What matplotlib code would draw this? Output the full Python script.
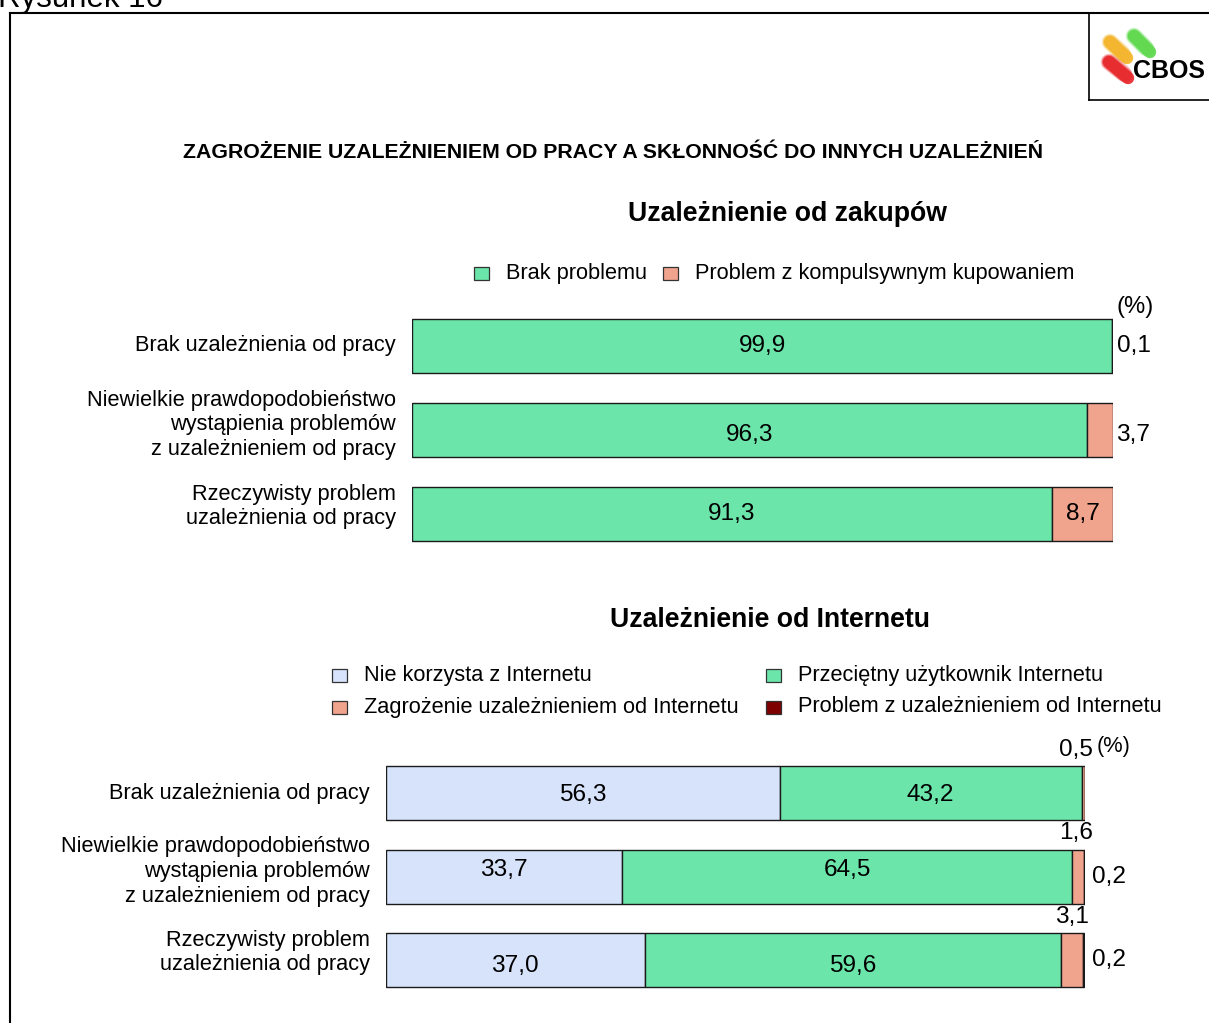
import matplotlib
matplotlib.use("Agg")
import matplotlib.pyplot as plt
from matplotlib.patches import Rectangle
from matplotlib.lines import Line2D

plt.rcParams['font.family'] = ['Liberation Sans', 'DejaVu Sans']

W, H = 1209, 1023

# ---- data ----
title = "ZAGROŻENIE UZALEŻNIENIEM OD PRACY A SKŁONNOŚĆ DO INNYCH UZALEŻNIEŃ"
groups = ["Brak uzależnienia od pracy",
          "Niewielkie prawdopodobieństwo\nwystąpienia problemów\nz uzależnieniem od pracy",
          "Rzeczywisty problem\nuzależnienia od pracy"]

shop_title = "Uzależnienie od zakupów"
shop_series = ["Brak problemu", "Problem z kompulsywnym kupowaniem"]
shop_no_problem = [99.9, 96.3, 91.3]
shop_compulsive = [0.1, 3.7, 8.7]

net_title = "Uzależnienie od Internetu"
net_series = ["Nie korzysta z Internetu", "Przeciętny użytkownik Internetu",
              "Zagrożenie uzależnieniem od Internetu", "Problem z uzależnieniem od Internetu"]
net_nonuser = [56.3, 33.7, 37.0]
net_average = [43.2, 64.5, 59.6]
net_risk = [0.5, 1.6, 3.1]
net_problem = [0.0, 0.2, 0.2]

C_BLUE = "#D6E3FB"
C_GREEN = "#6CE5AB"
C_SALMON = "#F0A48E"
C_DARKRED = "#7F0000"

FS = 15.7      # category and legend text
FN = 17.6      # value labels


def fx(px):
    return px / W


def fy(py):
    return 1 - py / H


def fmt(v):
    return f"{v:.1f}".replace(".", ",")


fig = plt.figure(figsize=(W / 100, H / 100), dpi=100)

# frame and logo box
fig.add_artist(Line2D([fx(10), fx(10)], [fy(13), fy(1030)], color="black", lw=1.5))
fig.add_artist(Line2D([fx(10), fx(1215)], [fy(13), fy(13)], color="black", lw=1.5))
fig.add_artist(Line2D([fx(1089), fx(1089)], [fy(13), fy(100)], color="black", lw=1.2))
fig.add_artist(Line2D([fx(1089), fx(1215)], [fy(100), fy(100)], color="black", lw=1.2))
fig.text(fx(-2), fy(7), "Rysunek 16", fontsize=22.5, ha="left", va="baseline")

# CBOS logo
for (x0, y0, x1, y1, c) in [(1110, 42, 1127, 58, "#F4B428"), (1134, 36, 1150, 52, "#5CD84A"),
                            (1109, 62, 1128, 78, "#E8252A")]:
    for k, a in enumerate([0.25, 0.5, 0.9]):
        fig.add_artist(Line2D([fx(x0), fx(x1 - 5 + 5 * k / 2)], [fy(y0), fy(y1 - 5 + 5 * k / 2)],
                              color=c, lw=12 - k * 1.5, solid_capstyle="round", alpha=a))
fig.text(fx(1133), fy(71), "CBOS", fontsize=18, fontweight="bold", ha="left", va="center")

fig.text(fx(613), fy(153), title, fontsize=15.3, fontweight="bold", ha="center", va="center")


def legend_item(x, y, label, color):
    fig.add_artist(Rectangle((fx(x - 7.5), fy(y + 6.5)), 15 / W, 13 / H, facecolor=color,
                             edgecolor="#333333", lw=0.9))
    fig.text(fx(x + 25), fy(y), label, fontsize=FS, ha="left", va="center")


def make_axes(left, right, c0, c2):
    step = (c2 - c0) / 2
    top = c0 - step / 2
    bottom = c2 + step / 2
    ax = fig.add_axes([fx(left), fy(bottom), (right - left) / W, (bottom - top) / H])
    ax.set_xlim(0, 100)
    ax.set_ylim(2.5, -0.5)
    ax.axis("off")
    return ax, step


def hbar(ax, left_vals, widths, color, bh):
    ax.barh(range(3), widths, left=left_vals, height=bh, color=color,
            edgecolor="#1a1a1a", linewidth=1.0)


label_shift = [0.0, -0.06, -0.09]

# ---- shopping addiction ----
fig.text(fx(787), fy(214), shop_title, fontsize=19.2, fontweight="bold", ha="center", va="center")
legend_item(481, 273, shop_series[0], C_GREEN)
legend_item(670, 273, shop_series[1], C_SALMON)

ax1, step1 = make_axes(412, 1113, 346, 514)
bh1 = 54 / step1
hbar(ax1, [0, 0, 0], shop_no_problem, C_GREEN, bh1)
hbar(ax1, shop_no_problem, shop_compulsive, C_SALMON, bh1)
shift1 = [0.0, 0.06, 0.0]
for i, v in enumerate(shop_no_problem):
    ax1.text(v / 2, i + shift1[i], fmt(v), fontsize=FN, ha="center", va="center")
for i, v in enumerate(shop_compulsive):
    if v > 5:
        ax1.text(shop_no_problem[i] + v / 2, i + shift1[i], fmt(v), fontsize=FN,
                 ha="center", va="center")
    else:
        ax1.text(100.5, i + shift1[i], fmt(v), fontsize=FN, ha="left", va="center")
ax1.text(100.5, -0.47, "(%)", fontsize=FN - 0.5, ha="left", va="center")
for i, g in enumerate(groups):
    ax1.text(-2.3, i + label_shift[i], g, fontsize=FS, ha="right", va="center", linespacing=1.24)

# ---- internet addiction ----
fig.text(fx(770), fy(620), net_title, fontsize=19.2, fontweight="bold", ha="center", va="center")
legend_item(339, 675, net_series[0], C_BLUE)
legend_item(773, 675, net_series[1], C_GREEN)
legend_item(339, 707, net_series[2], C_SALMON)
legend_item(773, 707, net_series[3], C_DARKRED)

ax2, step2 = make_axes(386, 1085, 793, 960)
bh2 = 54 / step2
cum = [0, 0, 0]
for vals, col in [(net_nonuser, C_BLUE), (net_average, C_GREEN),
                  (net_risk, C_SALMON), (net_problem, C_DARKRED)]:
    hbar(ax2, cum, vals, col, bh2)
    cum = [c + v for c, v in zip(cum, vals)]

row_shift = [0.02, -0.08, 0.07]
for i in range(3):
    ax2.text(net_nonuser[i] / 2, i + row_shift[i], fmt(net_nonuser[i]),
             fontsize=FN, ha="center", va="center")
    ax2.text(net_nonuser[i] + net_average[i] / 2, i + row_shift[i], fmt(net_average[i]),
             fontsize=FN, ha="center", va="center")
    end = net_nonuser[i] + net_average[i] + net_risk[i] / 2
    ax2.text(min(end, 98.7), i - 0.52, fmt(net_risk[i]), fontsize=FN, ha="center", va="center")
    if net_problem[i] > 0:
        ax2.text(101.0, i + 0.0, fmt(net_problem[i]), fontsize=FN, ha="left", va="center")
ax2.text(101.7, -0.56, "(%)", fontsize=FS, ha="left", va="center")
for i, g in enumerate(groups):
    ax2.text(-2.3, i + label_shift[i], g, fontsize=FS, ha="right", va="center", linespacing=1.24)

fig.savefig("out.png", dpi=100)
